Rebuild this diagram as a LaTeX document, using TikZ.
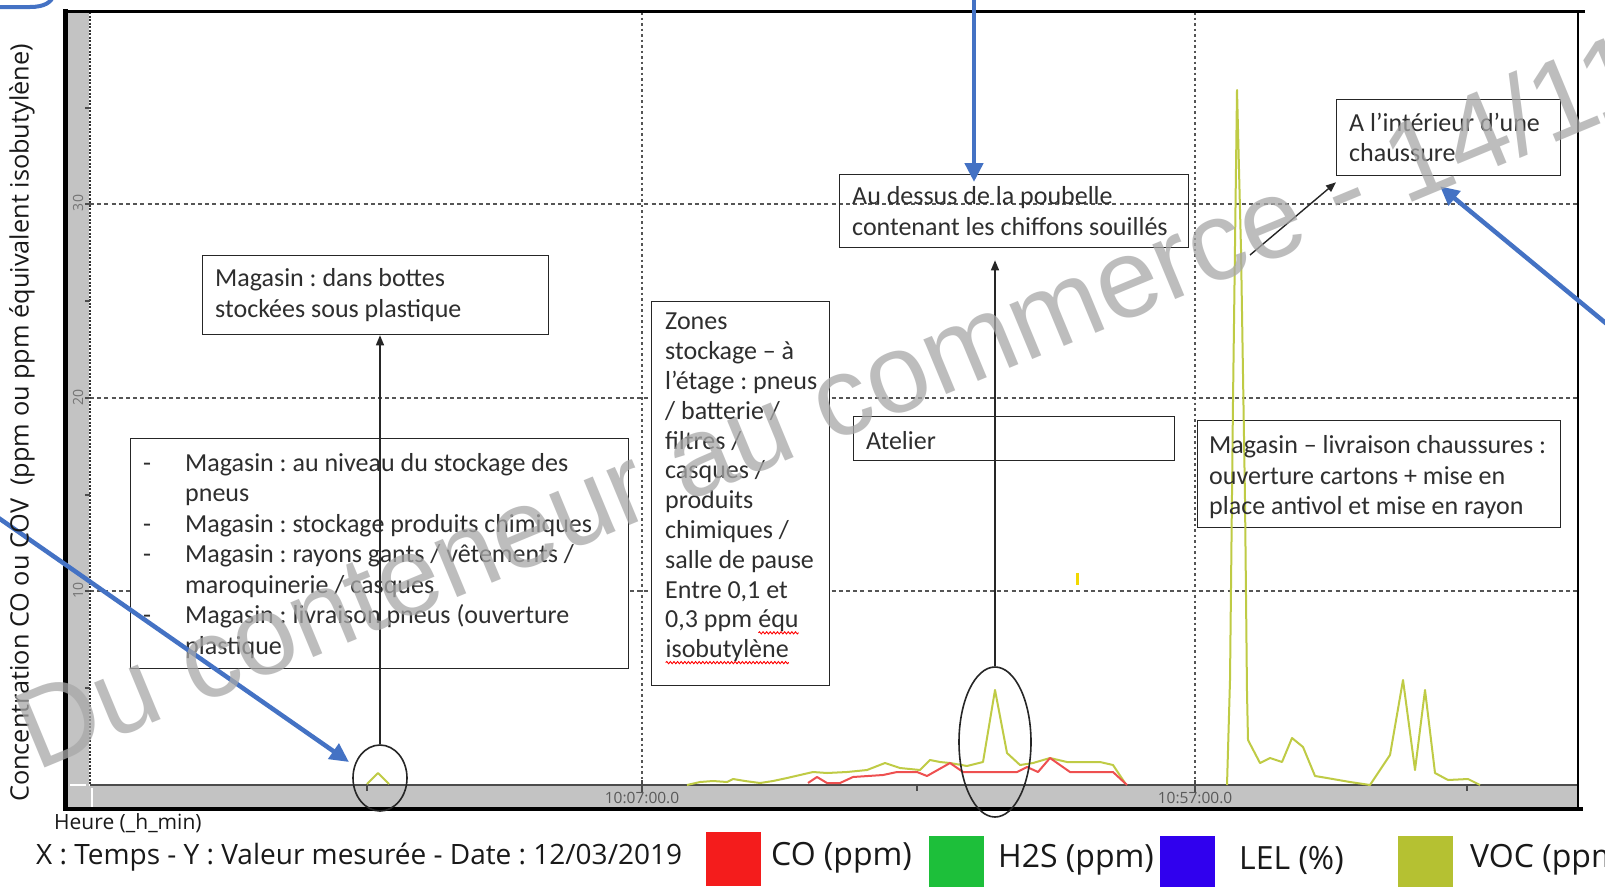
\documentclass[tikz,border=0pt]{standalone}
\usepackage{fontspec}
\setmainfont{Carlito}
\newfontfamily\osans{Open Sans}
\newfontfamily\wmfont{Liberation Sans}
\usetikzlibrary{shapes.geometric,arrows.meta,calc,decorations.pathmorphing}
\definecolor{vocc}{HTML}{BFCB45}
\definecolor{coc}{HTML}{EE5050}
\definecolor{bluearr}{HTML}{4472C4}
\definecolor{legred}{HTML}{F41C1C}
\definecolor{leggreen}{HTML}{1DBF3A}
\definecolor{legblue}{HTML}{3000EE}
\definecolor{legvoc}{HTML}{B5C132}
\definecolor{bandgray}{HTML}{C3C3C3}
\definecolor{gridgray}{HTML}{555555}
\definecolor{wmgray}{HTML}{A8A8A8}
\definecolor{yelmark}{HTML}{F2D800}
\newcommand\wavyu[1]{\tikz[baseline=(wu.base)]{\node[inner sep=0pt,outer sep=0pt,anchor=base](wu){#1};\draw[red,line width=0.9pt,decorate,decoration={snake,amplitude=1.1pt,segment length=3.6pt}]([yshift=-5pt]wu.base west)--([yshift=-5pt]wu.base east);}}
\begin{document}
\frenchspacing
\begin{tikzpicture}[x=1pt,y=-1pt,
  box/.style={draw=black!85,line width=1.3pt,inner sep=0pt,anchor=north west},
  txt/.style={font=\fontsize{26}{30.5}\selectfont,text=black!82,align=left,inner sep=0pt,anchor=west},
  blk/.style={draw=black!85,line width=1.4pt,-{Triangle[length=10pt,width=8pt]}},
  blu/.style={draw=bluearr,line width=4.5pt,-{Triangle[length=19pt,width=18pt]}},
  hgrid/.style={draw=gridgray,line width=1.2pt,dash pattern=on 4pt off 3.2pt},
  vgrid/.style={draw=gridgray,line width=1.6pt,dash pattern=on 2.5pt off 3pt},
  yaxis/.style={draw=black!80,line width=1.5pt,dash pattern=on 2pt off 1.5pt},
  axisline/.style={draw=black!70,line width=1.5pt},
  tickl/.style={draw=black!70,line width=1.3pt},
  vocline/.style={draw=vocc,line width=2pt,line join=round},
  coline/.style={draw=coc,line width=2pt,line join=round},
  ring/.style={draw=black!85,line width=1.6pt,ellipse,inner sep=0pt},
  legsq/.style={minimum width=55pt,minimum height=54pt,inner sep=0pt,anchor=north west},
  legtxt/.style={font=\osans\fontsize{32}{36}\selectfont,text=black!90,inner sep=0pt,anchor=west},
  xtick/.style={font=\osans\fontsize{15.5}{18}\selectfont,text=black!65,inner sep=0pt},
  ytick/.style={font=\osans\fontsize{14}{16}\selectfont,text=black!55,inner sep=0pt,rotate=90}
]
\useasboundingbox (0,0) rectangle (1605,886);
\clip (0,0) rectangle (1605,886);
\fill[white] (0,0) rectangle (1605,886);
% grey bands
\fill[bandgray] (66,12) rectangle (89,808);
\fill[bandgray] (66,786) rectangle (1578,808);
\draw[white,line width=1.5pt] (70,785) -- (86,785);
\draw[white,line width=1.5pt] (92,788) -- (92,808);
% grid
\foreach \yy in {204,398,591} \draw[hgrid] (90,\yy) -- (1578,\yy);
\foreach \xx in {642,1195} \draw[vgrid] (\xx,12) -- (\xx,785);
% axes
\draw[axisline] (90,785) -- (1578,785);
\draw[yaxis] (90,12) -- (90,785);
\foreach \yy in {108,204,301,398,495,591,688} \draw[tickl] (85,\yy) -- (90,\yy);
\foreach \xx in {367,917,1467} \draw[tickl] (\xx,785) -- (\xx,791);
\foreach \xx in {642,1195} \draw[tickl] (\xx,780) -- (\xx,792);
\node[xtick] (xt1) at (642,798) {10:07:00.0};
\node[xtick] (xt2) at (1195,798) {10:57:00.0};
\node[ytick] (yt30) at (78,203) {30};
\node[ytick] (yt20) at (78,397) {20};
\node[ytick] (yt10) at (78,590) {10};
% frame
\draw[line width=5pt] (65.5,9) -- (65.5,811);
\draw[line width=3pt] (63,11.5) -- (1585,11.5);
\draw[line width=2pt] (1578,11) -- (1578,810);
\draw[line width=3.5pt] (63,809) -- (1583,809);
% boxes
\node[box,fill=white,minimum width=346pt,minimum height=79pt] (b1) at (202,255) {};
\node[box,fill=white,minimum width=498pt,minimum height=230pt] (b2) at (130,438) {};
\node[box,fill=white,minimum width=178pt,minimum height=384pt] (b3) at (651,301) {};
\node[box,minimum width=349pt,minimum height=73pt] (b4) at (839,174) {};
\node[box,minimum width=224pt,minimum height=76pt] (b5) at (1336,99) {};
\node[box,fill=white,minimum width=321pt,minimum height=44pt] (b6) at (853,416) {};
\node[box,minimum width=363pt,minimum height=107pt] (b7) at (1197,420) {};
% curves
\draw[vocline] plot coordinates {(367,784) (378,773) (389,784)};
\draw[vocline] plot coordinates {(687,785) (700,782) (713,781) (727,782) (733,779) (745,781) (760,783) (773,781) (787,778) (800,775) (813,772) (827,773) (847,772) (867,770) (885,763) (900,768) (920,770) (930,760) (940,762) (950,763) (967,766) (983,762) (995,690) (1007,753) (1020,765) (1033,763) (1050,758) (1067,762) (1100,762) (1113,765) (1125,783)};
\draw[coline] plot coordinates {(808,783) (817,777) (827,783) (840,783) (853,777) (883,775) (897,772) (917,772) (927,776) (950,763) (963,772) (1017,772) (1027,767) (1038,772) (1050,758) (1070,772) (1113,772) (1127,785)};
\draw[vocline] plot coordinates {(1227,785) (1230,680) (1233,400) (1237,90) (1241,250) (1245,500) (1247,693) (1248,740) (1260,763) (1270,758) (1282,762) (1292,738) (1303,747) (1315,776) (1327,778) (1350,782) (1370,785) (1390,755) (1403,680) (1415,770) (1425,690) (1435,773) (1448,780) (1468,779) (1480,785)};
\draw[yelmark,line width=3pt] (1077,573) -- (1077,585);
% circles
\node[ring,minimum width=54pt,minimum height=66pt] (c1) at (380,778) {};
\node[ring,minimum width=72pt,minimum height=150pt] (c2) at (995,742) {};
% black arrows
\draw[blk] (c1.north) -- (c1.north |- b1.south);
\draw[blk] (c2.north) -- ($(c2.north |- b4.south)+(0,12)$);
\coordinate (spk) at (1250,255);
\draw[blk] (spk) -- ($(b5.south west)+(0,6)$);
% texts
\node[txt] (t1) at ($(b1.west)+(13,0)$) {Magasin : dans bottes\\stockées sous plastique};
\node[txt] (t2) at ($(b2.west)+(13,2)$) {\makebox[42pt][l]{-}Magasin : au niveau du stockage des\\\hspace*{42pt}pneus\\\makebox[42pt][l]{-}Magasin : stockage produits chimiques\\\makebox[42pt][l]{-}Magasin : rayons gants / vêtements /\\\hspace*{42pt}maroquinerie / casques\\\makebox[42pt][l]{-}Magasin : livraison pneus (ouverture\\\hspace*{42pt}plastique};
\node[txt,font=\fontsize{26}{29.8}\selectfont] (t3) at ($(b3.west)+(14,-5)$) {Zones\\stockage – à\\l’étage : pneus\\/ batterie /\\filtres /\\casques /\\produits\\chimiques /\\salle de pause\\Entre 0,1 et\\0,3 ppm \wavyu{équ}\\\wavyu{isobutylène}};
\node[txt] (t4) at ($(b4.west)+(13,0)$) {Au dessus de la poubelle\\contenant les chiffons souillés};
\node[txt] (t5) at ($(b5.west)+(13,0)$) {A l’intérieur d’une\\chaussure};
\node[txt] (t6) at ($(b6.west)+(13,2)$) {Atelier};
\node[txt] (t7) at ($(b7.west)+(12,3)$) {Magasin – livraison chaussures :\\ouverture cartons + mise en\\place antivol et mise en rayon};
% blue arrows
\coordinate (bl0) at (-10,512);
\coordinate (bt0) at (974,-10);
\coordinate (br0) at (1625,339);
\draw[blu] (bl0) -- ($(c1.center)+(-31,-16)$);
\draw[blu] (bt0) -- ($(b4.north west)+(135,8)$);
\draw[blu] (br0) -- ($(b5.south west)+(104,10)$);
\draw[draw=bluearr,line width=4pt] (-5,7) -- (30,7) .. controls (45,7) and (52,2) .. (54,-6);
% axis titles and legend
\node[font=\osans\fontsize{25.3}{30}\selectfont,text=black!90,rotate=90,inner sep=0pt] (ylab) at (22,423) {Concentration CO ou COV\ \ (ppm ou ppm équivalent isobutylène)};
\node[font=\osans\fontsize{21}{25}\selectfont,text=black!90,anchor=west,inner sep=0pt] (heure) at (54,823) {Heure (\_h\_min)};
\node[font=\osans\fontsize{28}{32}\selectfont,text=black!90,anchor=west,inner sep=0pt] (xlab) at (36,857) {X : Temps - Y : Valeur mesurée - Date : 12/03/2019};
\node[legsq,fill=legred] (sqco) at (706,832) {};
\node[legtxt] (lco) at (771,858) {CO (ppm)};
\node[legsq,fill=leggreen] (sqh2s) at (929,836) {};
\node[legtxt] (lh2s) at (998,860) {H2S (ppm)};
\node[legsq,fill=legblue] (sqlel) at (1160,836) {};
\node[legtxt] (llel) at (1239,860) {LEL (\%)};
\node[legsq,fill=legvoc] (sqvoc) at (1398,836) {};
\node[legtxt] (lvoc) at (1470,860) {VOC (ppm)};
% watermark
\node[font=\wmfont\fontsize{112}{115}\selectfont,text=wmgray,text opacity=0.75,rotate=22.5,anchor=base west,inner sep=0pt] (wm) at (36,772) {Du conteneur au commerce - 14/11};
\end{tikzpicture}
\end{document}
